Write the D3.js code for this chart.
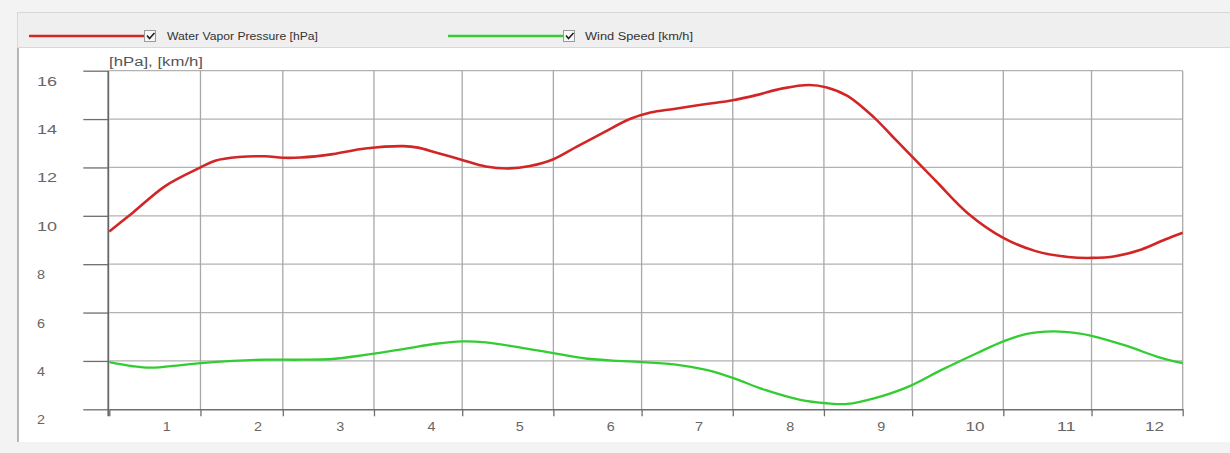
<!DOCTYPE html>
<html>
<head>
<meta charset="utf-8">
<script src="https://cdn.jsdelivr.net/npm/d3@7"></script>
<style>
  html, body { margin: 0; padding: 0; background: #f2f2f2; }
  svg { display: block; font-family: "Liberation Sans", Arial, sans-serif; }
</style>
</head>
<body>
<svg id="chart" width="1230" height="453"></svg>
<script>
// ---- Data ----
const seriesNames = ["Water Vapor Pressure [hPa]", "Wind Speed [km/h]"];
const axisTitle = "[hPa], [km/h]";
const xTickLabels = ["1","2","3","4","5","6","7","8","9","10","11","12"];
const yTickValues = [2, 4, 6, 8, 10, 12, 14, 16];

const vaporDates = ["2021-01-01","2021-01-09","2021-01-20","2021-02-01","2021-02-06","2021-02-14","2021-02-23",
  "2021-03-01","2021-03-07","2021-03-18","2021-03-29","2021-04-11","2021-04-16","2021-04-22","2021-05-01",
  "2021-05-09","2021-05-17","2021-05-24","2021-06-01","2021-06-09","2021-06-18","2021-06-27","2021-07-04",
  "2021-07-12","2021-07-23","2021-08-01","2021-08-09","2021-08-18","2021-08-27","2021-09-02","2021-09-09",
  "2021-09-18","2021-09-24","2021-09-30","2021-10-09","2021-10-20","2021-11-01","2021-11-12","2021-11-23",
  "2021-12-01","2021-12-09","2021-12-18","2021-12-26","2022-01-01"];
const vaporValues = [9.35,10.13,11.23,12.0,12.28,12.43,12.46,
  12.40,12.41,12.55,12.78,12.88,12.82,12.62,12.31,
  12.04,11.96,12.06,12.34,12.86,13.44,14.0,14.27,
  14.42,14.62,14.78,14.99,15.27,15.41,15.31,14.96,
  14.07,13.32,12.57,11.45,10.10,9.09,8.54,8.30,
  8.26,8.33,8.61,9.02,9.30];

const windDates = ["2021-01-01","2021-01-09","2021-01-15","2021-01-26","2021-02-01","2021-02-12","2021-02-23",
  "2021-03-07","2021-03-18","2021-03-29","2021-04-11","2021-04-22","2021-05-01","2021-05-09","2021-05-20",
  "2021-06-01","2021-06-12","2021-06-23","2021-06-30","2021-07-12","2021-07-23","2021-08-01","2021-08-12",
  "2021-08-24","2021-09-02","2021-09-09","2021-09-18","2021-09-30","2021-10-11","2021-10-23",
  "2021-11-01","2021-11-09","2021-11-18","2021-11-26","2021-12-01","2021-12-13","2021-12-24","2022-01-01"];
const windValues = [3.95,3.78,3.72,3.84,3.91,4.0,4.05,
  4.05,4.08,4.25,4.49,4.71,4.81,4.77,4.57,
  4.32,4.10,4.0,3.96,3.86,3.63,3.30,2.80,
  2.39,2.25,2.22,2.45,2.95,3.63,4.32,
  4.81,5.12,5.22,5.15,5.04,4.62,4.15,3.91];

const colors = ["#d22626", "#33cc33"];

// ---- Setup ----
const parse = d3.timeParse("%Y-%m-%d");
const svg = d3.select("#chart");
const start = new Date(2021, 0, 1), end = new Date(2022, 0, 1);
const x = d3.scaleTime().domain([start, end]).range([109.3, 1182.7]);
const y = d3.scaleLinear().domain([2, 16]).range([409.3, 70.7]);

// Background panels
svg.append("rect").attr("x", 0).attr("y", 0).attr("width", 1230).attr("height", 453).attr("fill", "#f3f3f3");
svg.append("rect").attr("x", 17.5).attr("y", 12.5).attr("width", 1213).attr("height", 35)
  .attr("fill", "#efefef").attr("stroke", "#d8d8d8");
svg.append("rect").attr("x", 18).attr("y", 48).attr("width", 1212).attr("height", 394).attr("fill", "#ffffff");
svg.append("line").attr("x1", 18).attr("x2", 18).attr("y1", 48).attr("y2", 442)
  .attr("stroke", "#a4a4a4").attr("stroke-width", 1.6);

// Legend
const legendItems = [
  { name: seriesNames[0], color: colors[0], x0: 29, x1: 147, box: 144, tx: 167, tl: 151 },
  { name: seriesNames[1], color: colors[1], x0: 448, x1: 566, box: 563, tx: 585, tl: 108 }
];
const lg = svg.append("g");
legendItems.forEach(it => {
  lg.append("line").attr("x1", it.x0).attr("x2", it.x1).attr("y1", 36).attr("y2", 36)
    .attr("stroke", it.color).attr("stroke-width", 2.6);
  lg.append("rect").attr("x", it.box + 0.5).attr("y", 30.5).attr("width", 11).attr("height", 11)
    .attr("fill", "#f7f7f7").attr("stroke", "#9a9a9a").attr("stroke-width", 1);
  lg.append("path").attr("d", `M${it.box + 3},${35.5} l2.5,3 l5,-5.5`)
    .attr("fill", "none").attr("stroke", "#222").attr("stroke-width", 1.6);
  lg.append("text").attr("x", it.tx).attr("y", 36).attr("dy", "0.35em")
    .attr("font-size", 10).attr("fill", "#333")
    .attr("textLength", it.tl).attr("lengthAdjust", "spacingAndGlyphs")
    .text(it.name);
});

// Axis title
svg.append("text").attr("x", 109).attr("y", 66).attr("font-size", 12).attr("fill", "#555")
  .attr("textLength", 94).attr("lengthAdjust", "spacingAndGlyphs").text(axisTitle);

// Horizontal gridlines (inside plot)
svg.append("g").selectAll("line").data(yTickValues.filter(v => v > 2)).join("line")
  .attr("x1", x(start)).attr("x2", x(end))
  .attr("y1", d => y(d)).attr("y2", d => y(d))
  .attr("stroke", "#b2b2b2").attr("stroke-width", 1.3);

// Vertical gridlines at month boundaries
const monthStarts = d3.timeMonth.range(start, d3.timeDay.offset(end, 1));
svg.append("g").selectAll("line").data(monthStarts.slice(1)).join("line")
  .attr("x1", d => x(d)).attr("x2", d => x(d))
  .attr("y1", y(16)).attr("y2", y(2))
  .attr("stroke", "#a8a8a8").attr("stroke-width", 1.3);

// Y axis (tick extensions to the left + labels)
const yAxis = svg.append("g").attr("transform", `translate(${x(start) - 1},0)`)
  .call(d3.axisLeft(y).tickValues(yTickValues).tickSize(25).tickFormat(d3.format("d")));
yAxis.select(".domain").remove();
yAxis.selectAll(".tick line").attr("stroke", "#6e6e6e").attr("stroke-width", 1.3);
yAxis.selectAll(".tick text")
  .attr("x", 37 - (x(start) - 1)).attr("y", 10).attr("dy", "0.35em")
  .attr("text-anchor", "start").attr("font-size", 13).attr("fill", "#666")
  .attr("textLength", d => String(d).length === 1 ? 8 : 20).attr("lengthAdjust", "spacingAndGlyphs");
svg.append("line").attr("x1", x(start) - 1).attr("x2", x(start) - 1)
  .attr("y1", y(16)).attr("y2", y(2) + 7).attr("stroke", "#666").attr("stroke-width", 1.8);

// X axis (month boundary ticks)
const xAxis = svg.append("g").attr("transform", `translate(0,${y(2)})`)
  .call(d3.axisBottom(x).tickValues(monthStarts).tickSize(7).tickSizeOuter(0).tickFormat(""));
xAxis.select(".domain").attr("stroke", "#6e6e6e").attr("stroke-width", 1.5);
xAxis.selectAll(".tick line").attr("stroke", "#6e6e6e").attr("stroke-width", 1.3);

// X labels
const labelDates = monthStarts.slice(0, 12).map(d => d3.timeDay.offset(d, 18));
const xLab = svg.append("g").attr("transform", `translate(0,${y(2)})`)
  .call(d3.axisBottom(x).tickValues(labelDates).tickSize(0).tickFormat((d, i) => xTickLabels[i]));
xLab.select(".domain").remove();
xLab.selectAll(".tick text")
  .attr("y", 17.5).attr("dy", "0.35em").attr("text-anchor", "start")
  .attr("font-size", 13).attr("fill", "#666")
  .attr("textLength", (d, i) => xTickLabels[i].length === 1 ? 8 : 19).attr("lengthAdjust", "spacingAndGlyphs");

// Series lines
const line = d3.line().x(d => x(d.date)).y(d => y(d.value)).curve(d3.curveCatmullRom.alpha(0.5));
const vapor = vaporDates.map((d, i) => ({ date: parse(d), value: vaporValues[i] }));
const wind = windDates.map((d, i) => ({ date: parse(d), value: windValues[i] }));
svg.append("path").datum(wind).attr("d", line).attr("fill", "none")
  .attr("stroke", colors[1]).attr("stroke-width", 2.3);
svg.append("path").datum(vapor).attr("d", line).attr("fill", "none")
  .attr("stroke", colors[0]).attr("stroke-width", 2.6);
</script>
</body>
</html>
